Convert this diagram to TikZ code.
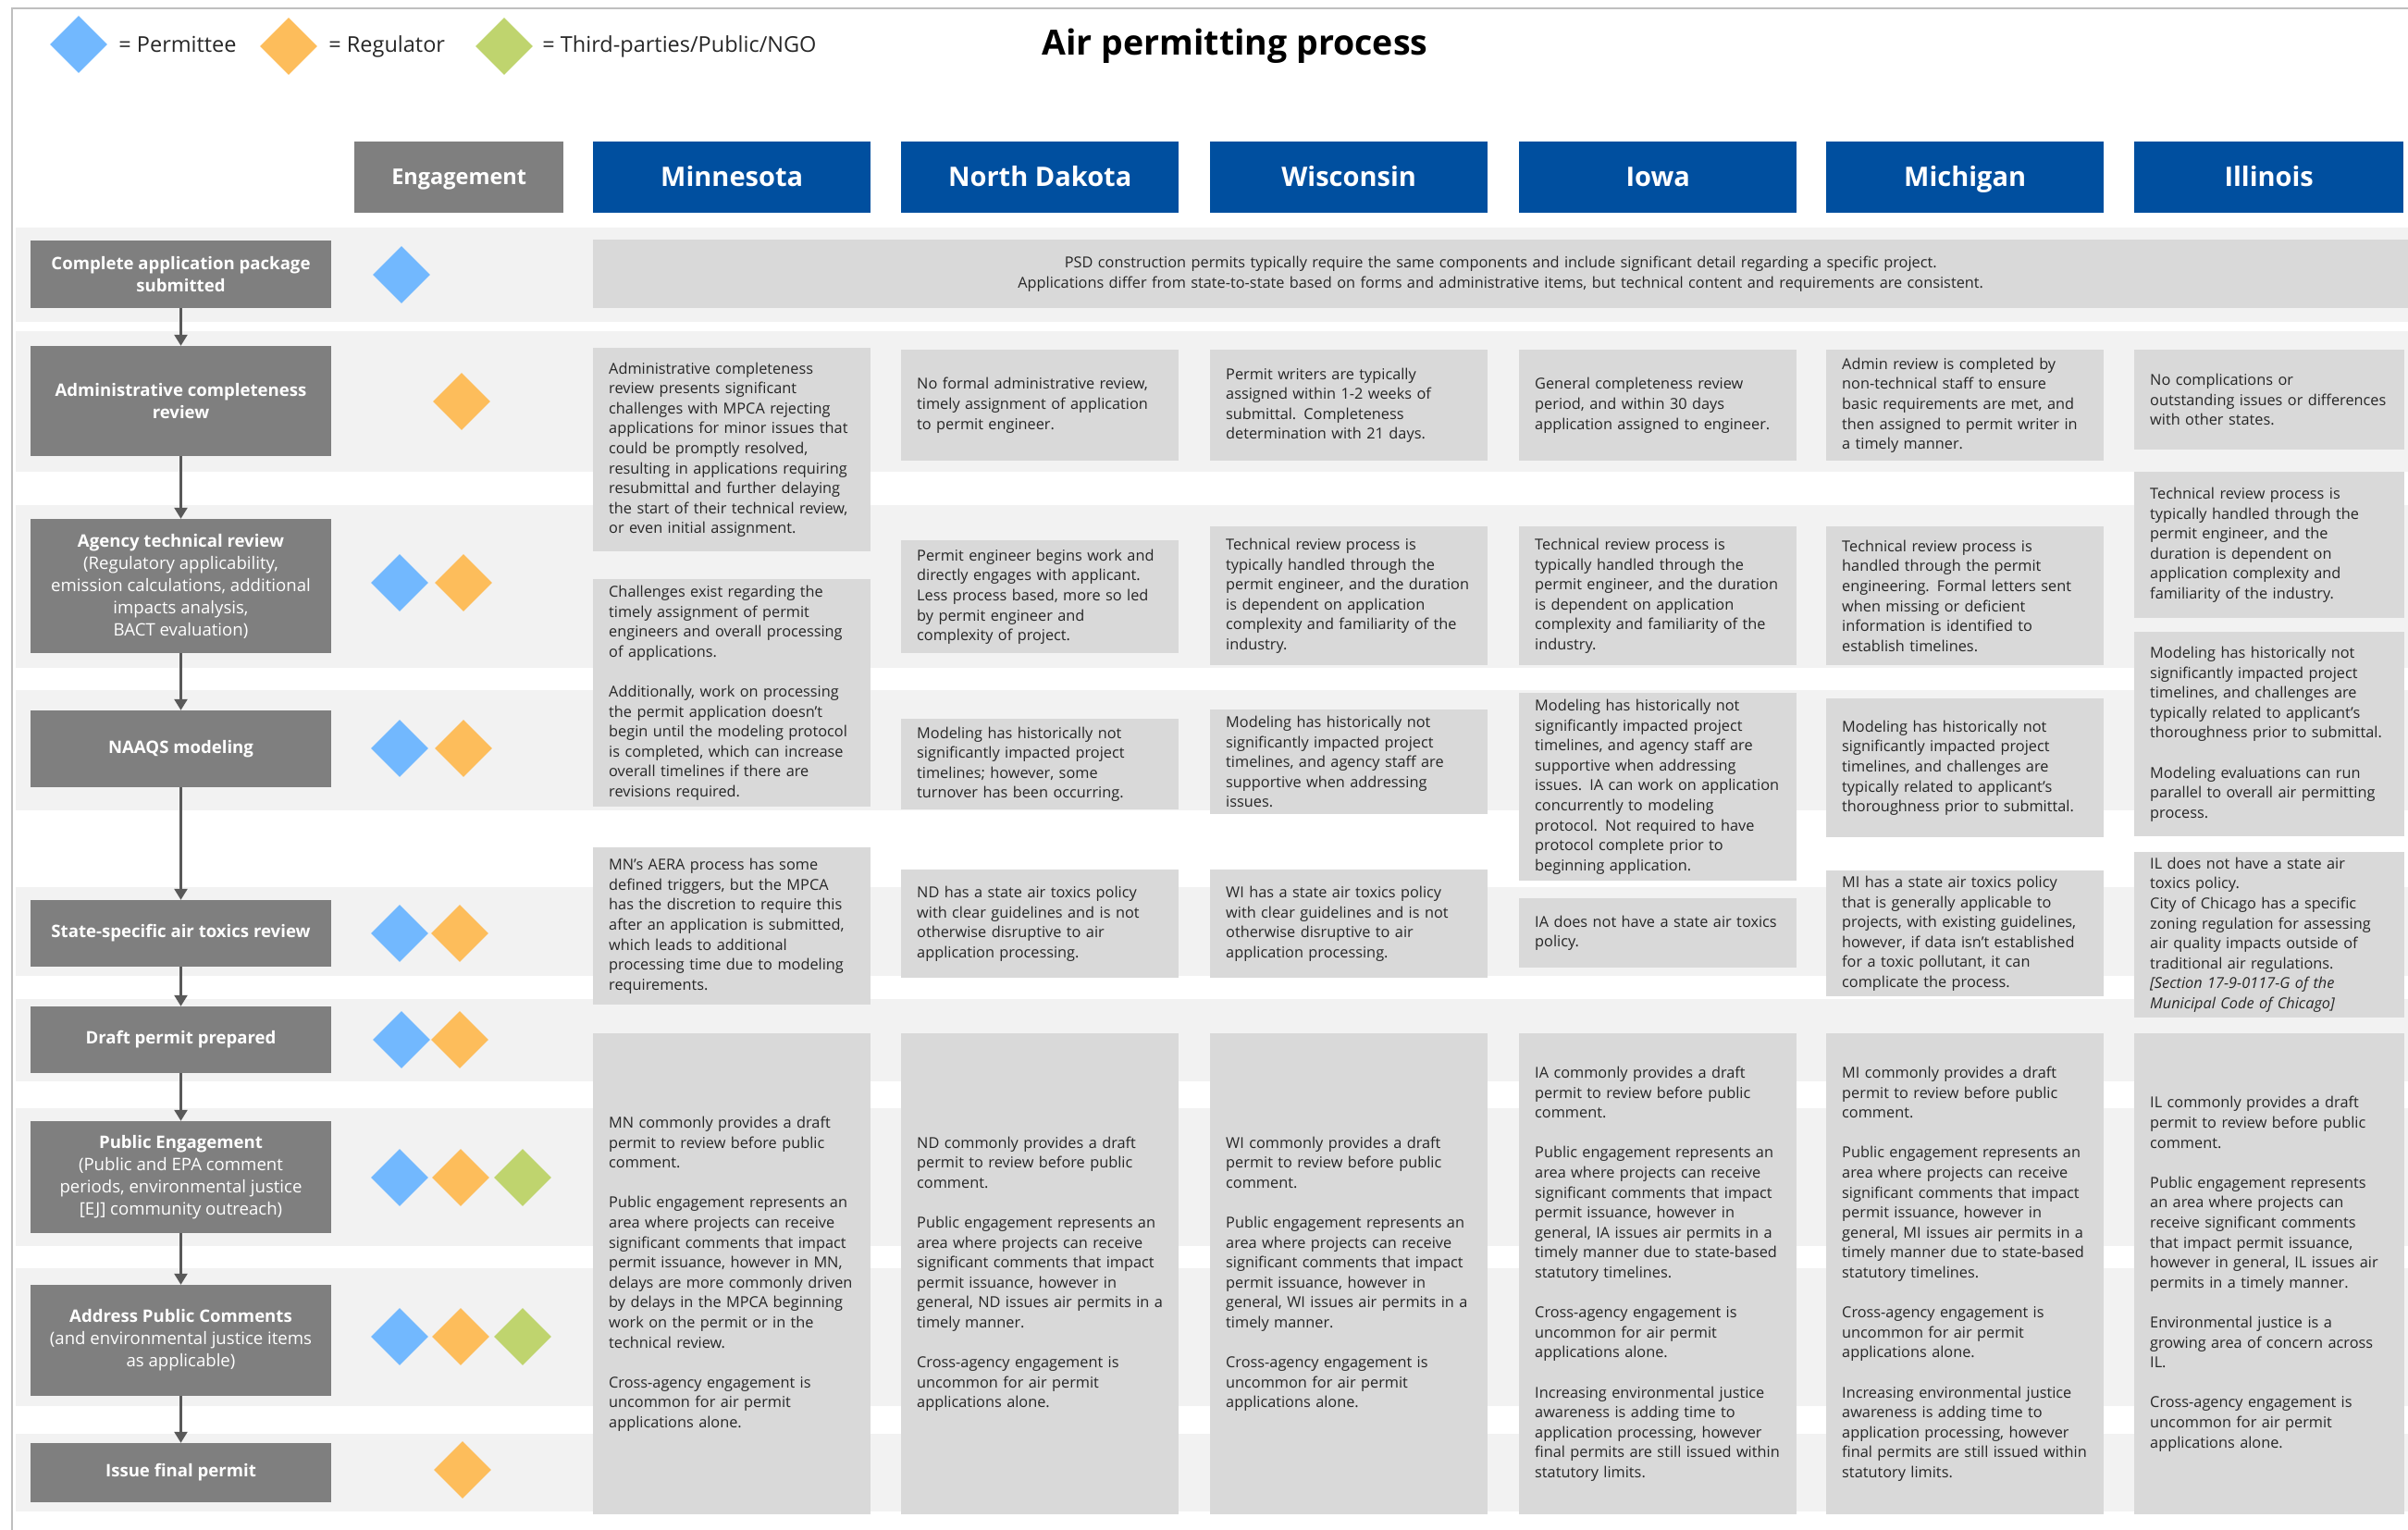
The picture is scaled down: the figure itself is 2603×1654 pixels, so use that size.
\documentclass[tikz,border=0pt]{standalone}
\usepackage{fontspec}
\setmainfont{Open Sans}
\usetikzlibrary{shapes.geometric,arrows.meta,positioning}

\definecolor{bandgray}{HTML}{F2F2F2}
\definecolor{boxgray}{HTML}{D9D9D9}
\definecolor{stepgray}{HTML}{7F7F7F}
\definecolor{hdrblue}{HTML}{004F9F}
\definecolor{arrowgray}{HTML}{595959}
\definecolor{framegray}{HTML}{BFBFBF}
\definecolor{txtgray}{HTML}{262626}
\definecolor{pmt}{HTML}{72B8FE}
\definecolor{reg}{HTML}{FDBD5B}
\definecolor{tpy}{HTML}{BFD46E}

\tikzset{
  stepbox/.style={fill=stepgray, text=white, minimum width=325pt, align=center, inner sep=0pt,
    font=\fontsize{18.6}{24}\selectfont},
  hdr/.style={fill=hdrblue, text=white, minimum height=77pt, inner sep=0pt, anchor=north west,
    text height=20pt, text depth=1pt, font=\bfseries\fontsize{29}{34}\selectfont},
  cbox/.style={fill=boxgray, text=txtgray, text width=266pt, align=left, inner xsep=17pt, inner ysep=0pt,
    anchor=north west, font=\fontsize{16.3}{21.6}\selectfont},
  dia/.style={diamond, minimum size=62pt, inner sep=0pt},
  flow/.style={draw=arrowgray, line width=2.5pt, -{Triangle[width=14pt,length=12pt]}},
  legend/.style={inner sep=0pt, text=txtgray, font=\fontsize{23.5}{28}\selectfont}
}

\begin{document}
\begin{tikzpicture}[x=1pt, y=-1pt]
\useasboundingbox (0,0) rectangle (2603,1654);

\foreach \t/\b in {246/348, 358/510, 546/722, 746/876, 959/1055, 1080/1169, 1198/1347, 1371/1520, 1550/1634}
  \fill[bandgray] (17,\t) rectangle (2603,\b);
\draw[framegray, line width=2.5pt] (13,1654) -- (13,9) -- (2603,9);

\node[dia, fill=pmt] (lp) at (85,48) {};
\node[legend, right=12pt of lp] (lpt) {= Permittee};
\node[dia, fill=reg] (lr) at (312,50) {};
\node[legend, right=12pt of lr] (lrt) {= Regulator};
\node[dia, fill=tpy] (lt) at (545,50) {};
\node[legend, right=10pt of lt] (ltt) {= Third-parties/Public/NGO};
\node[font=\bfseries\fontsize{37.5}{42}\selectfont] (title) at (1335,50) {Air permitting process};

\node[hdr, fill=stepgray, minimum width=226pt, text height=16pt, text depth=1pt, font=\bfseries\fontsize{23.5}{28}\selectfont] (eng) at (383,153) {Engagement};
\node[hdr, minimum width=300pt] (mnh) at (641,153) {Minnesota};
\node[hdr, minimum width=300pt] (ndh) at (974,153) {North Dakota};
\node[hdr, minimum width=300pt] (wih) at (1308,153) {Wisconsin};
\node[hdr, minimum width=300pt] (iah) at (1642,153) {Iowa};
\node[hdr, minimum width=300pt] (mih) at (1974,153) {Michigan};
\node[hdr, minimum width=291pt] (ilh) at (2307,153) {Illinois};

\node[stepbox, minimum height=73pt] (s1) at (195.5,296.5) {\textbf{Complete application package}\\\textbf{submitted}};
\node[stepbox, minimum height=119pt] (s2) at (195.5,433.5) {\textbf{Administrative completeness}\\\textbf{review}};
\node[stepbox, minimum height=145pt] (s3) at (195.5,633.5) {\textbf{Agency technical review}\\(Regulatory applicability,\\emission calculations, additional\\impacts analysis,\\BACT evaluation)};
\node[stepbox, minimum height=83pt] (s4) at (195.5,809.5) {\textbf{NAAQS modeling}};
\node[stepbox, minimum height=72pt] (s5) at (195.5,1009) {\textbf{State-specific air toxics review}};
\node[stepbox, minimum height=72pt] (s6) at (195.5,1124) {\textbf{Draft permit prepared}};
\node[stepbox, minimum height=121pt] (s7) at (195.5,1272.5) {\textbf{Public Engagement}\\(Public and EPA comment\\periods, environmental justice\\{[EJ]} community outreach)};
\node[stepbox, minimum height=120pt] (s8) at (195.5,1449) {\textbf{Address Public Comments}\\(and environmental justice items\\as applicable)};
\node[stepbox, minimum height=64pt] (s9) at (195.5,1592) {\textbf{Issue final permit}};

\foreach \a/\b in {s1/s2, s2/s3, s3/s4, s4/s5, s5/s6, s6/s7, s7/s8, s8/s9}
  \draw[flow] (\a) -- (\b);

\node[dia, fill=pmt] (p1) at (434,297) {};
\node[dia, fill=reg] (r2) at (499,434) {};
\node[dia, fill=pmt] (p3) at (432,630) {};
\node[dia, fill=reg] (r3) at (501,630) {};
\node[dia, fill=pmt] (p4) at (432,809) {};
\node[dia, fill=reg] (r4) at (501,809) {};
\node[dia, fill=pmt] (p5) at (432,1009) {};
\node[dia, fill=reg] (r5) at (497,1009) {};
\node[dia, fill=pmt] (p6) at (434,1124) {};
\node[dia, fill=reg] (r6) at (497,1124) {};
\node[dia, fill=pmt] (p7) at (432,1273) {};
\node[dia, fill=reg] (r7) at (498,1273) {};
\node[dia, fill=tpy] (t7) at (565,1273) {};
\node[dia, fill=pmt] (p8) at (432,1445) {};
\node[dia, fill=reg] (r8) at (498,1445) {};
\node[dia, fill=tpy] (t8) at (565,1445) {};
\node[dia, fill=reg] (r9) at (500,1589) {};

\node[cbox, text width=1928pt, align=center, minimum height=74pt] (psd) at (641,259) {PSD construction permits typically require the same components and include significant detail regarding a specific project.\\Applications differ from state-to-state based on forms and administrative items, but technical content and requirements are consistent.};

% Minnesota
\node[cbox, minimum height=220pt] (mna) at (641,376) {Administrative completeness\\review presents significant\\challenges with MPCA rejecting\\applications for minor issues that\\could be promptly resolved,\\resulting in applications requiring\\resubmittal and further delaying\\the start of their technical review,\\or even initial assignment.};
\node[cbox, minimum height=246pt] (mnb) at (641,626) {Challenges exist regarding the\\timely assignment of permit\\engineers and overall processing\\of applications.\\[21.6pt]Additionally, work on processing\\the permit application doesn’t\\begin until the modeling protocol\\is completed, which can increase\\overall timelines if there are\\revisions required.};
\node[cbox, minimum height=170pt] (mnc) at (641,916) {MN’s AERA process has some\\defined triggers, but the MPCA\\has the discretion to require this\\after an application is submitted,\\which leads to additional\\processing time due to modeling\\requirements.};
\node[cbox, minimum height=520pt] (mnd) at (641,1117) {MN commonly provides a draft\\permit to review before public\\comment.\\[21.6pt]Public engagement represents an\\area where projects can receive\\significant comments that impact\\permit issuance, however in MN,\\delays are more commonly driven\\by delays in the MPCA beginning\\work on the permit or in the\\technical review.\\[21.6pt]Cross-agency engagement is\\uncommon for air permit\\applications alone.};

% North Dakota
\node[cbox, minimum height=120pt] (nda) at (974,378) {No formal administrative review,\\timely assignment of application\\to permit engineer.};
\node[cbox, minimum height=122pt] (ndb) at (974,584) {Permit engineer begins work and\\directly engages with applicant.\\Less process based, more so led\\by permit engineer and\\complexity of project.};
\node[cbox, minimum height=98pt] (ndc) at (974,777) {Modeling has historically not\\significantly impacted project\\timelines; however, some\\turnover has been occurring.};
\node[cbox, minimum height=117pt] (ndd) at (974,940) {ND has a state air toxics policy\\with clear guidelines and is not\\otherwise disruptive to air\\application processing.};
\node[cbox, minimum height=520pt] (nde) at (974,1117) {ND commonly provides a draft\\permit to review before public\\comment.\\[21.6pt]Public engagement represents an\\area where projects can receive\\significant comments that impact\\permit issuance, however in\\general, ND issues air permits in a\\timely manner.\\[21.6pt]Cross-agency engagement is\\uncommon for air permit\\applications alone.};

% Wisconsin
\node[cbox, minimum height=120pt] (wia) at (1308,378) {Permit writers are typically\\assigned within 1-2 weeks of\\submittal. Completeness\\determination with 21 days.};
\node[cbox, minimum height=150pt] (wib) at (1308,569) {Technical review process is\\typically handled through the\\permit engineer, and the duration\\is dependent on application\\complexity and familiarity of the\\industry.};
\node[cbox, minimum height=113pt] (wic) at (1308,767) {Modeling has historically not\\significantly impacted project\\timelines, and agency staff are\\supportive when addressing\\issues.};
\node[cbox, minimum height=117pt] (wid) at (1308,940) {WI has a state air toxics policy\\with clear guidelines and is not\\otherwise disruptive to air\\application processing.};
\node[cbox, minimum height=520pt] (wie) at (1308,1117) {WI commonly provides a draft\\permit to review before public\\comment.\\[21.6pt]Public engagement represents an\\area where projects can receive\\significant comments that impact\\permit issuance, however in\\general, WI issues air permits in a\\timely manner.\\[21.6pt]Cross-agency engagement is\\uncommon for air permit\\applications alone.};

% Iowa
\node[cbox, minimum height=120pt] (iaa) at (1642,378) {General completeness review\\period, and within 30 days\\application assigned to engineer.};
\node[cbox, minimum height=150pt] (iab) at (1642,569) {Technical review process is\\typically handled through the\\permit engineer, and the duration\\is dependent on application\\complexity and familiarity of the\\industry.};
\node[cbox, minimum height=203pt] (iac) at (1642,749) {Modeling has historically not\\significantly impacted project\\timelines, and agency staff are\\supportive when addressing\\issues. IA can work on application\\concurrently to modeling\\protocol. Not required to have\\protocol complete prior to\\beginning application.};
\node[cbox, minimum height=75pt] (iad) at (1642,971) {IA does not have a state air toxics\\policy.};
\node[cbox, minimum height=520pt] (iae) at (1642,1117) {IA commonly provides a draft\\permit to review before public\\comment.\\[21.6pt]Public engagement represents an\\area where projects can receive\\significant comments that impact\\permit issuance, however in\\general, IA issues air permits in a\\timely manner due to state-based\\statutory timelines.\\[21.6pt]Cross-agency engagement is\\uncommon for air permit\\applications alone.\\[21.6pt]Increasing environmental justice\\awareness is adding time to\\application processing, however\\final permits are still issued within\\statutory limits.};

% Michigan
\node[cbox, minimum height=120pt] (mia) at (1974,378) {Admin review is completed by\\non-technical staff to ensure\\basic requirements are met, and\\then assigned to permit writer in\\a timely manner.};
\node[cbox, minimum height=150pt] (mib) at (1974,569) {Technical review process is\\handled through the permit\\engineering. Formal letters sent\\when missing or deficient\\information is identified to\\establish timelines.};
\node[cbox, minimum height=150pt] (mic) at (1974,755) {Modeling has historically not\\significantly impacted project\\timelines, and challenges are\\typically related to applicant’s\\thoroughness prior to submittal.};
\node[cbox, minimum height=136pt] (mid) at (1974,941) {MI has a state air toxics policy\\that is generally applicable to\\projects, with existing guidelines,\\however, if data isn’t established\\for a toxic pollutant, it can\\complicate the process.};
\node[cbox, minimum height=520pt] (mie) at (1974,1117) {MI commonly provides a draft\\permit to review before public\\comment.\\[21.6pt]Public engagement represents an\\area where projects can receive\\significant comments that impact\\permit issuance, however in\\general, MI issues air permits in a\\timely manner due to state-based\\statutory timelines.\\[21.6pt]Cross-agency engagement is\\uncommon for air permit\\applications alone.\\[21.6pt]Increasing environmental justice\\awareness is adding time to\\application processing, however\\final permits are still issued within\\statutory limits.};

% Illinois
\node[cbox, text width=258pt, minimum height=108pt] (ila) at (2307,378) {No complications or\\outstanding issues or differences\\with other states.};
\node[cbox, text width=258pt, minimum height=158pt] (ilb) at (2307,510) {Technical review process is\\typically handled through the\\permit engineer, and the\\duration is dependent on\\application complexity and\\familiarity of the industry.};
\node[cbox, text width=258pt, minimum height=221pt] (ilc) at (2307,683) {Modeling has historically not\\significantly impacted project\\timelines, and challenges are\\typically related to applicant’s\\thoroughness prior to submittal.\\[21.6pt]Modeling evaluations can run\\parallel to overall air permitting\\process.};
\node[cbox, text width=258pt, minimum height=179pt] (ild) at (2307,921) {IL does not have a state air\\toxics policy.\\City of Chicago has a specific\\zoning regulation for assessing\\air quality impacts outside of\\traditional air regulations.\\\textit{[Section 17-9-0117-G of the}\\\textit{Municipal Code of Chicago]}};
\node[cbox, text width=258pt, minimum height=520pt] (ile) at (2307,1117) {IL commonly provides a draft\\permit to review before public\\comment.\\[21.6pt]Public engagement represents\\an area where projects can\\receive significant comments\\that impact permit issuance,\\however in general, IL issues air\\permits in a timely manner.\\[21.6pt]Environmental justice is a\\growing area of concern across\\IL.\\[21.6pt]Cross-agency engagement is\\uncommon for air permit\\applications alone.};
\end{tikzpicture}
\end{document}
